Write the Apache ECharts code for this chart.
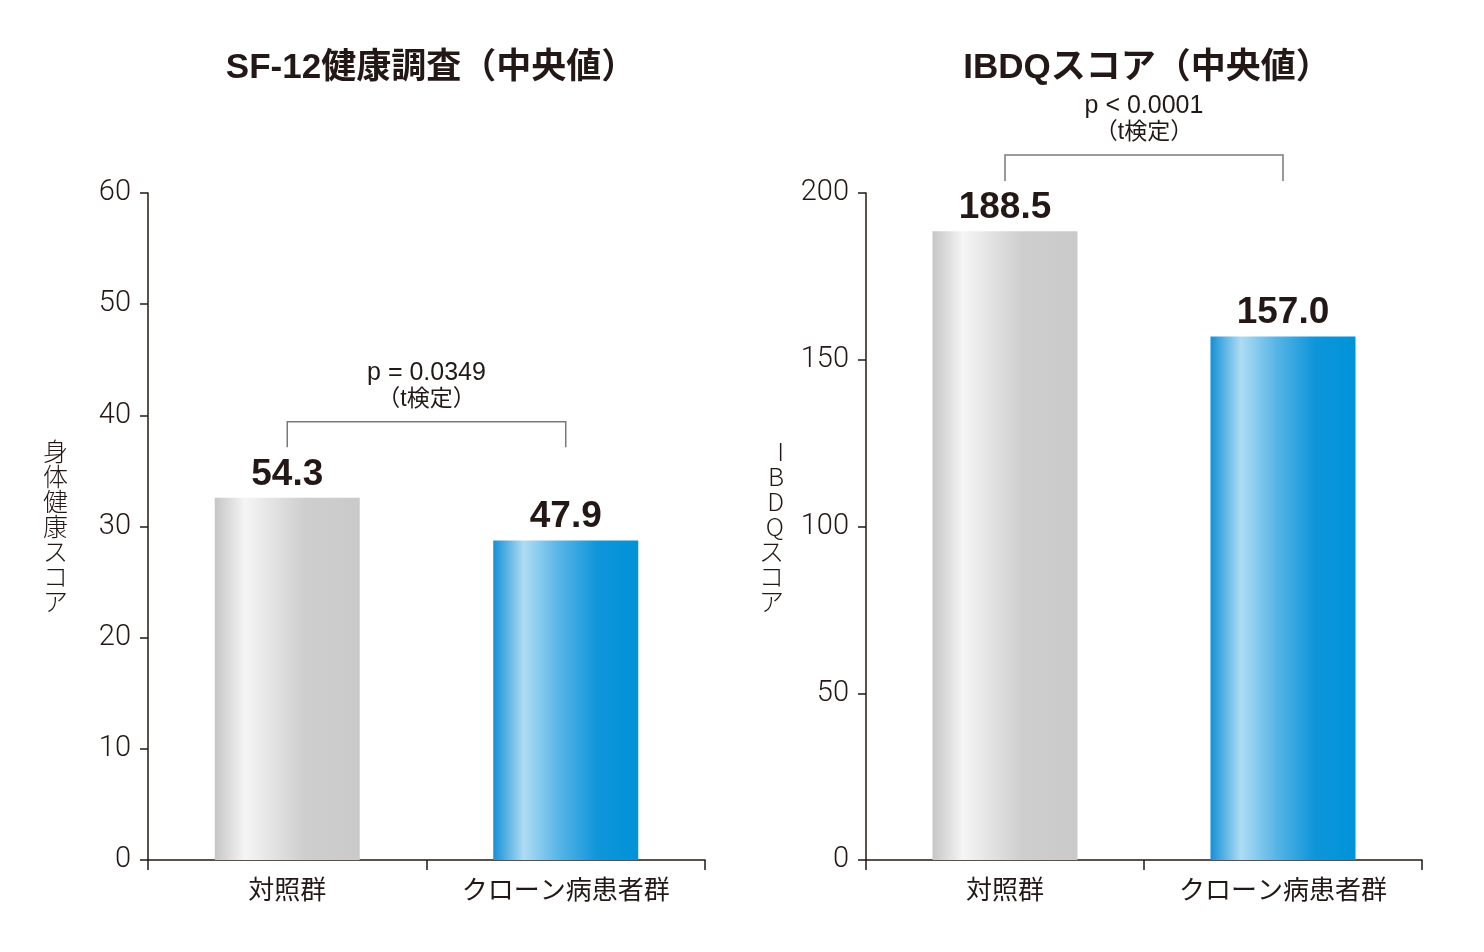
<!DOCTYPE html>
<html>
<head>
<meta charset="utf-8">
<script src="https://cdn.jsdelivr.net/npm/echarts@6/dist/echarts.min.js"></script>
<style>
html,body{margin:0;padding:0;background:#fff;}
#chart{width:1484px;height:952px;}
</style>
</head>
<body>
<div id="chart"></div>
<script>
// ---- data ----
const categories = ['対照群', 'クローン病患者群'];
const sf12Values = [54.3, 47.9];
const ibdqValues = [188.5, 157.0];
const sf12Title = 'SF-12健康調査（中央値）';
const ibdqTitle = 'IBDQスコア（中央値）';
const sf12AxisName = '身体健康スコア';
const ibdqAxisName = 'IBDQスコア';
const sf12TickMax = 60;   // printed tick labels 0..60 step 10
const sf12TickStep = 10;
const sf12BarScaleMax = 100; // bars in the original are drawn on a 0-100 scale
const ibdqTickMax = 200;  // printed tick labels 0..200 step 50
const ibdqTickStep = 50;
const pLabels = ['p = 0.0349', 'p < 0.0001'];
const testLabel = '（t検定）';

// ---- styles ----
const INK = '#231815';
const LATIN = "'Liberation Sans', 'Noto Sans CJK JP', sans-serif";
const THIN = "Roboto, 'Liberation Sans', sans-serif";

const grayGrad = new echarts.graphic.LinearGradient(0, 0, 1, 0, [
  {offset: 0, color: '#c6c6c6'},
  {offset: 0.21, color: '#f5f5f5'},
  {offset: 0.62, color: '#cecece'},
  {offset: 1, color: '#cacaca'}
]);
const blueGrad = new echarts.graphic.LinearGradient(0, 0, 1, 0, [
  {offset: 0, color: '#1590d6'},
  {offset: 0.21, color: '#aedcf3'},
  {offset: 0.45, color: '#58b5e6'},
  {offset: 0.72, color: '#0e95da'},
  {offset: 1, color: '#0093d8'}
]);

function vertical(s) { return Array.from(s).join('\n'); }

function yAxisCommon(max, step, name, gridIndex) {
  return {
    type: 'value', gridIndex: gridIndex, min: 0, max: max, interval: step,
    name: vertical(name), nameLocation: 'middle', nameGap: 80, nameRotate: 0,
    nameTextStyle: {fontFamily: "'Noto Sans CJK JP', sans-serif", fontSize: 25, color: INK, lineHeight: 25, fontWeight: 300},
    axisLine: {show: true, lineStyle: {color: INK, width: 1.5}},
    axisTick: {show: true, length: 8, lineStyle: {color: INK, width: 1.5}},
    axisLabel: {margin: 17, fontFamily: THIN, fontWeight: 300, fontSize: 29, color: INK},
    splitLine: {show: false}
  };
}

function xAxisCommon(gridIndex) {
  return {
    type: 'category', gridIndex: gridIndex, data: categories,
    axisLine: {lineStyle: {color: INK, width: 1.5}},
    axisTick: {show: true, length: 10, lineStyle: {color: INK, width: 1.5}},
    axisLabel: {margin: 19, fontFamily: LATIN, fontSize: 26, color: INK}
  };
}

function bracketSeries(xIdx, yIdx, top, leg, pText) {
  return {
    type: 'custom', xAxisIndex: xIdx, yAxisIndex: yIdx, clip: false, silent: true,
    data: [[top, leg]],
    renderItem: function (params, api) {
      const a = api.coord([0, api.value(0)]);
      const b = api.coord([1, api.value(0)]);
      const legY = api.coord([0, api.value(1)])[1];
      const cx = (a[0] + b[0]) / 2;
      return {
        type: 'group',
        children: [
          {type: 'polyline', shape: {points: [[a[0], legY], [a[0], a[1]], [b[0], b[1]], [b[0], legY]]},
           style: {stroke: '#7a7a7a', lineWidth: 1.5, fill: null}},
          {type: 'text', x: cx, y: a[1] - 49,
           style: {text: pText, fill: INK, font: "25px " + LATIN, align: 'center', verticalAlign: 'middle', textAlign: 'center', textVerticalAlign: 'middle'}},
          {type: 'text', x: cx, y: a[1] - 22,
           style: {text: testLabel, fill: INK, font: "23px " + LATIN, align: 'center', verticalAlign: 'middle', textAlign: 'center', textVerticalAlign: 'middle'}}
        ]
      };
    }
  };
}

function barSeries(xIdx, yIdx, values) {
  return {
    type: 'bar', xAxisIndex: xIdx, yAxisIndex: yIdx, barWidth: 145,
    data: values.map(function (v, i) {
      return {value: v, itemStyle: {color: i === 0 ? grayGrad : blueGrad}};
    }),
    label: {show: true, position: 'top', distance: 5,
      formatter: function (p) { return p.value.toFixed(1); },
      fontFamily: LATIN, fontWeight: 'bold', fontSize: 37, color: INK},
    emphasis: {disabled: true}
  };
}

const chart = echarts.init(document.getElementById('chart'), null, {renderer: 'canvas'});
chart.setOption({
  backgroundColor: '#ffffff',
  animation: false,
  title: [
    {text: sf12Title, left: 426, top: 46, textAlign: 'center',
     textStyle: {fontFamily: LATIN, fontWeight: 'bold', fontSize: 35, color: INK}},
    {text: ibdqTitle, left: 1142, top: 46, textAlign: 'center',
     textStyle: {fontFamily: LATIN, fontWeight: 'bold', fontSize: 35, color: INK}}
  ],
  grid: [
    {left: 148, top: 193, width: 557, height: 667},
    {left: 866, top: 193, width: 556, height: 667}
  ],
  xAxis: [xAxisCommon(0), xAxisCommon(1)],
  yAxis: [
    yAxisCommon(sf12TickMax, sf12TickStep, sf12AxisName, 0),
    {type: 'value', gridIndex: 0, min: 0, max: sf12BarScaleMax, show: false},
    Object.assign(yAxisCommon(ibdqTickMax, ibdqTickStep, ibdqAxisName, 1), {nameGap: 82})
  ],
  series: [
    barSeries(0, 1, sf12Values),
    barSeries(1, 2, ibdqValues),
    bracketSeries(0, 1, 65.7, 61.9, pLabels[0]),
    bracketSeries(1, 2, 211.4, 203.6, pLabels[1])
  ]
});
</script>
</body>
</html>
